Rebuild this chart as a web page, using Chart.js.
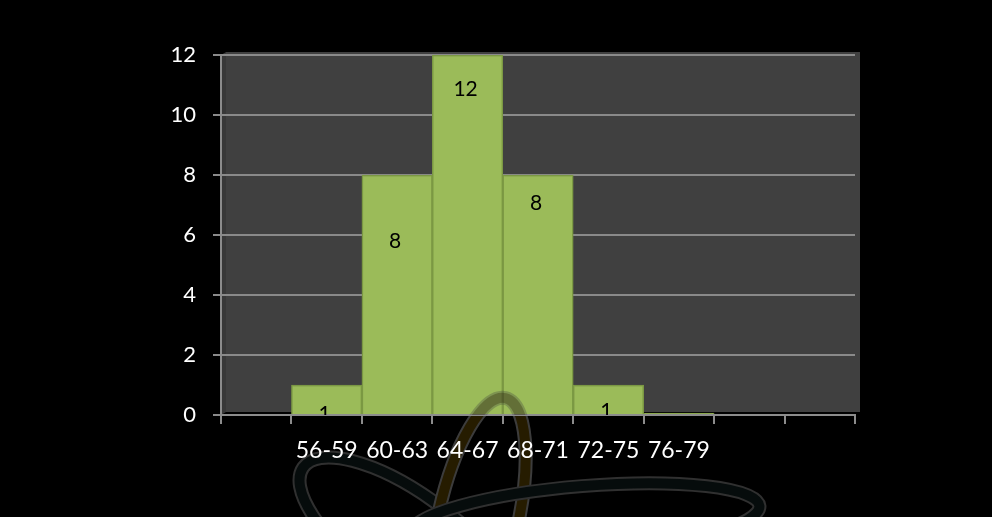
<!DOCTYPE html>
<html>
<head>
<meta charset="utf-8">
<script src="https://cdn.jsdelivr.net/npm/chart.js@4"></script>
<style>
html,body{margin:0;padding:0;background:#000;}
#c{display:block;}
</style>
</head>
<body>
<canvas id="c" width="992" height="517"></canvas>
<script>
const categories = ['', '56-59', '60-63', '64-67', '68-71', '72-75', '76-79', '', ''];
const counts = [null, 1, 8, 12, 8, 1, 0, null, null];
const yTicks = [0, 2, 4, 6, 8, 10, 12];

// Excel 3D label placement: pixel offsets below each bar top
const labelOffsets = [null, 29, 66, 34, 28, 26, null, null, null];

function ring(ctx, cx, cy, rx, ry, rot, fill, edge) {
  ctx.beginPath();
  ctx.ellipse(cx, cy, rx, ry, rot, 0, Math.PI * 2);
  ctx.lineWidth = 14; ctx.strokeStyle = edge; ctx.stroke();
  ctx.lineWidth = 10; ctx.strokeStyle = fill; ctx.stroke();
}
function goldRing(ctx) {
  ring(ctx, 478, 520, 40, 125, 0.22, 'rgba(38,28,0,1)', 'rgba(60,60,60,1)');
}

const wallPlugin = {
  id: 'wall',
  beforeDraw(chart) {
    const {ctx, chartArea: a} = chart;
    ctx.save();
    ctx.fillStyle = '#000';
    ctx.fillRect(0, 0, chart.width, chart.height);
    // decorative watermark behind the chart
    ring(ctx, 405, 540, 125, 48, 0.62, 'rgba(6,12,12,1)', 'rgba(48,48,48,1)');
    goldRing(ctx);
    ring(ctx, 585, 520, 175, 34, -0.08, 'rgba(6,12,12,1)', 'rgba(48,48,48,1)');
    ctx.fillStyle = '#404040';
    ctx.fillRect(a.left + 5, a.top - 3, a.right - a.left, a.bottom - a.top);
    ctx.fillStyle = '#383838';
    ctx.beginPath();
    ctx.moveTo(a.left, a.top); ctx.lineTo(a.left + 5, a.top - 3);
    ctx.lineTo(a.left + 5, a.bottom - 3); ctx.lineTo(a.left, a.bottom);
    ctx.closePath(); ctx.fill();
    ctx.restore();
  }
};

const labelPlugin = {
  id: 'barLabels',
  afterDatasetsDraw(chart) {
    const {ctx, chartArea: a} = chart;
    const meta = chart.getDatasetMeta(0);
    ctx.save();
    ctx.beginPath();
    ctx.rect(a.left, a.top - 10, a.right - a.left, a.bottom - a.top + 10);
    ctx.clip();
    ctx.globalAlpha = 0.3;
    goldRing(ctx);
    ctx.globalAlpha = 1;
    ctx.fillStyle = '#000';
    ctx.font = '21px Lato';
    ctx.textAlign = 'center';
    ctx.textBaseline = 'middle';
    meta.data.forEach((bar, i) => {
      const v = counts[i];
      if (v === null || v === 0) return;
      ctx.fillText(String(v), bar.x - 2, bar.y + labelOffsets[i]);
    });
    ctx.restore();
  }
};

new Chart(document.getElementById('c'), {
  type: 'bar',
  data: {
    labels: categories,
    datasets: [{
      data: counts,
      backgroundColor: '#9BBB59',
      borderColor: '#7B9843',
      borderWidth: 1.5,
      categoryPercentage: 1,
      barPercentage: 1,
      minBarLength: 2
    }]
  },
  options: {
    responsive: false,
    animation: false,
    layout: {padding: {left: 0, right: 137, top: 55, bottom: 0}},
    plugins: {legend: {display: false}, tooltip: {enabled: false}},
    scales: {
      x: {
        offset: true,
        grid: {display: true, drawOnChartArea: false, drawTicks: true, tickLength: 9, color: '#8c8c8c', lineWidth: 2, offset: true},
        border: {display: true, color: '#8c8c8c', width: 2},
        ticks: {color: '#fff', font: {family: 'Lato', size: 23}, padding: 13, maxRotation: 0, autoSkip: false},
        afterFit(s) { s.height = 102; }
      },
      y: {
        min: 0, max: 12,
        afterBuildTicks(s) { s.ticks = yTicks.map(v => ({value: v})); },
        grid: {color: '#8a8a8a', lineWidth: 2, tickLength: 8},
        border: {display: true, color: '#8c8c8c', width: 2},
        ticks: {color: '#fff', font: {family: 'Lato', size: 22}, padding: 17},
        afterFit(s) { s.width = 221; }
      }
    }
  },
  plugins: [wallPlugin, labelPlugin]
});
</script>
</body>
</html>
